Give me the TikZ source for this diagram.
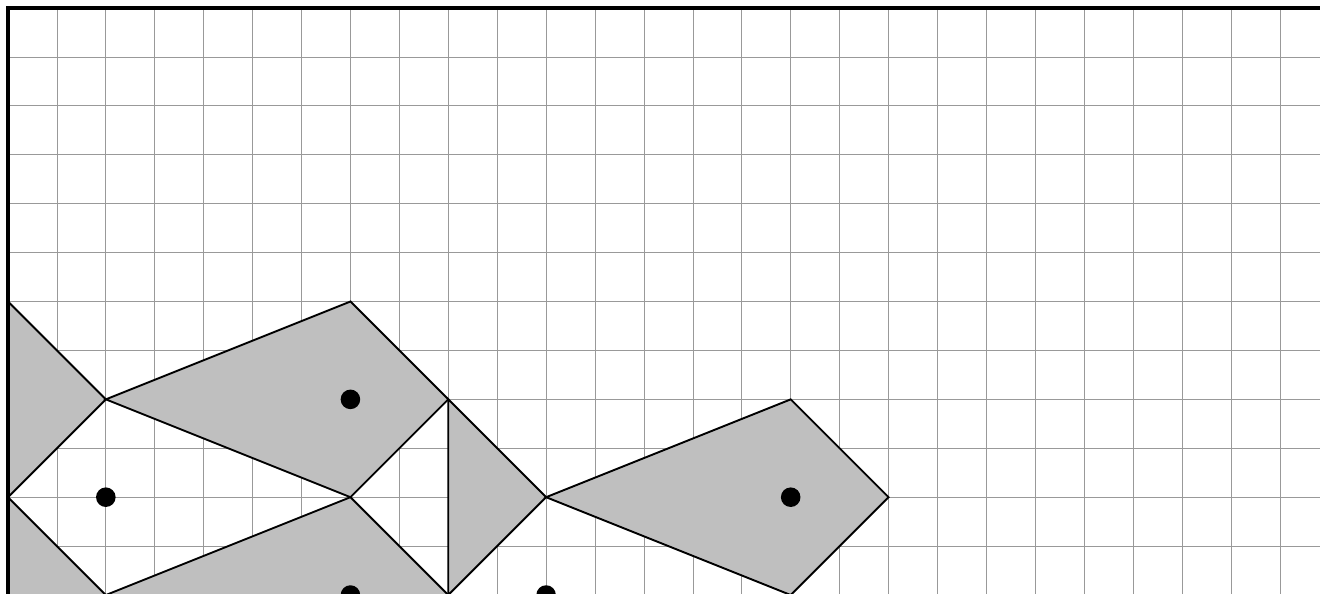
\documentclass[tikz,border=0pt]{standalone}
\begin{document}
\begin{tikzpicture}[x=1cm,y=-1cm,
  gridline/.style={black!40,line width=0.4pt},
  piece/.style={fill=black!25,draw=black,line width=1.1pt,line join=miter},
  dotmark/.style={circle,fill=black,inner sep=0pt,minimum size=0.4cm}]
\useasboundingbox (-0.1635,-0.1635) rectangle (26.82,11.979);
\clip (-0.1635,-0.1635) rectangle (26.82,11.979);
\draw[gridline] (0,0) grid (27,12.5);
% vertices
\coordinate (a) at (0,6);
\coordinate (b) at (2,8);
\coordinate (c) at (0,10);
\coordinate (d) at (7,6);
\coordinate (e) at (9,8);
\coordinate (f) at (7,10);
\coordinate (g) at (2,12);
\coordinate (h) at (0,14);
\coordinate (i) at (9,12);
\coordinate (j) at (7,14);
\coordinate (k) at (11,10);
\coordinate (l) at (16,8);
\coordinate (m) at (18,10);
\coordinate (n) at (16,12);
% pieces
\draw[piece] (a) -- (b) -- (c) -- cycle;
\draw[piece] (b) -- (d) -- (e) -- (f) -- cycle;
\draw[piece] (c) -- (g) -- (h) -- cycle;
\draw[piece] (g) -- (f) -- (i) -- (j) -- cycle;
\draw[piece] (e) -- (k) -- (i) -- cycle;
\draw[piece] (k) -- (l) -- (m) -- (n) -- cycle;
% dots
\node[dotmark] (p1) at (7,8) {};
\node[dotmark] (p2) at (2,10) {};
\node[dotmark] (p3) at (7,12) {};
\node[dotmark] (p4) at (16,10) {};
\node[dotmark] (p5) at (11,12) {};
% frame
\draw[line width=2pt] (0,14) -- (0,0) -- (28,0);
\end{tikzpicture}
\end{document}
